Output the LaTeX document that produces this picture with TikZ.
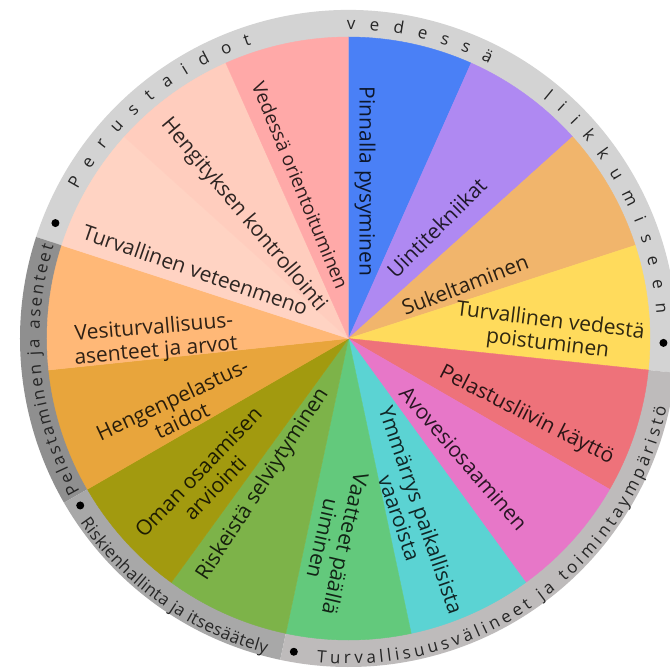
\documentclass[tikz,border=0pt]{standalone}
\usepackage{fontspec}
\setmainfont{Open Sans}
\font\ringprim="Open Sans" at 17pt
\definecolor{s1}{RGB}{74,128,246}
\definecolor{s2}{RGB}{175,137,242}
\definecolor{s3}{RGB}{241,181,108}
\definecolor{s4}{RGB}{255,219,92}
\definecolor{s5}{RGB}{238,114,122}
\definecolor{s6}{RGB}{231,119,200}
\definecolor{s7}{RGB}{91,211,211}
\definecolor{s8}{RGB}{99,201,124}
\definecolor{s9}{RGB}{125,179,73}
\definecolor{s10}{RGB}{162,154,15}
\definecolor{s11}{RGB}{232,165,60}
\definecolor{s12}{RGB}{255,184,119}
\definecolor{s13}{RGB}{255,211,195}
\definecolor{s14}{RGB}{255,205,190}
\definecolor{s15}{RGB}{255,169,168}
\definecolor{r1}{RGB}{211,211,211}
\definecolor{r2}{RGB}{143,143,143}
\definecolor{r3}{RGB}{168,168,168}
\definecolor{r4}{RGB}{190,187,187}
\newcommand\placechar[4]{\node[ringchar, rotate=#3] at (#1pt,#2pt) {#4};}
\ExplSyntaxOn
\fp_new:N \l__rt_total_fp
\fp_new:N \l__rt_pos_fp
\fp_new:N \l__rt_s_fp
\fp_new:N \l__rt_ang_fp
\fp_new:N \l__rt_w_fp
\box_new:N \l__rt_box
\cs_new_protected:Npn \__rt_width:n #1
  {
    \str_if_eq:nnTF {#1} {+}
      { \fp_set:Nn \l__rt_w_fp { 4.4 } }
      {
        \hbox_set:Nn \l__rt_box { \ringprim #1 }
        \fp_set:Nn \l__rt_w_fp { \dim_to_fp:n { \box_wd:N \l__rt_box } }
      }
  }
\NewDocumentCommand \ringtext { m m m m m }
  {
    \fp_zero:N \l__rt_total_fp
    \str_map_inline:nn {#5}
      {
        \__rt_width:n {##1}
        \fp_add:Nn \l__rt_total_fp { \l__rt_w_fp + (#4) }
      }
    \fp_sub:Nn \l__rt_total_fp { #4 }
    \fp_set:Nn \l__rt_pos_fp { - \l__rt_total_fp / 2 }
    \str_map_inline:nn {#5}
      {
        \__rt_width:n {##1}
        \fp_set:Nn \l__rt_s_fp { \l__rt_pos_fp + \l__rt_w_fp / 2 }
        \fp_set:Nn \l__rt_ang_fp { (#2) + (#3) * \l__rt_s_fp / (#1) * 180 / pi }
        \str_if_eq:nnF {##1} {+}
          {
            \use:e
              {
                \exp_not:N \placechar
                  { \fp_to_decimal:n { round( (#1) * cosd(\l__rt_ang_fp), 3) } }
                  { \fp_to_decimal:n { round( (#1) * sind(\l__rt_ang_fp), 3) } }
                  { \fp_to_decimal:n { round( \l__rt_ang_fp + (#3) * 90, 3) } }
                  { \exp_not:n {##1} }
              }
          }
        \fp_add:Nn \l__rt_pos_fp { \l__rt_w_fp + (#4) }
      }
  }
\ExplSyntaxOff
\begin{document}
\begin{tikzpicture}[x=1pt,y=1pt,
  lbl/.style={font=\fontsize{21pt}{23pt}\selectfont, text=black, text opacity=0.82, align=center, inner sep=0pt},
  lblsmall/.style={lbl, font=\fontsize{19pt}{21pt}\selectfont},
  ringchar/.style={font=\ringprim, text=black!85, inner sep=0pt, anchor=base},
  ringdot/.style={fill=black}]
\fill[white] (-348.5pt,-331.5pt) rectangle (321.5pt,338.5pt);
\useasboundingbox (-348.5pt,-331.5pt) rectangle (321.5pt,338.5pt);
% outer ring
\foreach \a/\b/\c in {-6/162/r1, 162/210/r2, 210/258/r3, 258/354/r4}
  \fill[\c] (\a:301pt) arc[start angle=\a, end angle=\b, radius=301pt]
     -- (\b:328.5pt) arc[start angle=\b, end angle=\a, radius=328.5pt] -- cycle;
% sectors
\foreach \i in {1,...,15}{
  \pgfmathsetmacro\a{90-24*(\i-1)}
  \pgfmathsetmacro\b{\a-24}
  \filldraw[fill=s\i, draw=s\i, line width=0.4pt, line join=round]
     (0,0) -- (\a:301.5pt) arc[start angle=\a, end angle=\b, radius=301.5pt] -- cycle;
}
% labels
\node[lbl, rotate=-90] (l1) at (16.5pt,157pt) {Pinnalla pysyminen};
\node[lbl, rotate=45] (l2) at (88pt,111pt) {Uintitekniikat};
\node[lbl, rotate=21] (l3) at (116.5pt,54pt) {Sukeltaminen};
\node[lbl, rotate=-7] (l4) at (200.5pt,5.5pt) {Turvallinen vedestä\\poistuminen};
\node[lbl, rotate=-27] (l5) at (178pt,-77pt) {Pelastusliivin käyttö};
\node[lbl, rotate=-49] (l6) at (115pt,-120pt) {Avovesiosaaminen};
\node[lbl, rotate=-71] (l7) at (62pt,-175.5pt) {Ymmärrys paikallisista\\vaaroista};
\node[lbl, rotate=-103] (l8) at (-14pt,-203pt) {Vaatteet päällä\\uiminen};
\node[lbl, rotate=57] (l9) at (-85.5pt,-146pt) {Riskeistä selviytyminen};
\node[lbl, rotate=46] (l10) at (-142pt,-141.5pt) {Oman osaamisen\\arviointi};
\node[lbl, rotate=25] (l11) at (-171.5pt,-71pt) {Hengenpelastus-\\taidot};
\node[lbl, rotate=5] (l12) at (-193.5pt,-1.5pt) {Vesiturvallisuus-\\asenteet ja arvot};
\node[lbl, rotate=-19] (l13) at (-153pt,68.5pt) {Turvallinen veteenmeno};
\node[lbl, rotate=-50] (l14) at (-105pt,123.5pt) {Hengityksen kontrollointi};
\node[lblsmall, rotate=-67.5] (l15) at (-48pt,153pt) {Vedessä orientoituminen};
% ring texts
\ringtext{309}{129.75}{-1}{14}{Perustaidot}
\ringtext{309}{76.6}{-1}{14}{vedessä}
\ringtext{309}{27.8}{-1}{13.8}{liikkumiseen}
\ringtext{309}{186.1}{-1}{2.4}{Pelastaminen+ja+asenteet}
\ringtext{325.5}{234.9}{1}{0.4}{Riskienhallinta+ja+itsesäätely}
\ringtext{325.5}{-53.9}{1}{3.7}{Turvallisuusvälineet+ja+toimintaympäristö}
% dots
\fill[ringdot] (158.5:315pt) circle[radius=4pt];
\fill[ringdot] (-0.8:315pt) circle[radius=4pt];
\fill[ringdot] (211.9:316pt) circle[radius=4pt];
\fill[ringdot] (260.1:318pt) circle[radius=4pt];
\end{tikzpicture}
\end{document}
